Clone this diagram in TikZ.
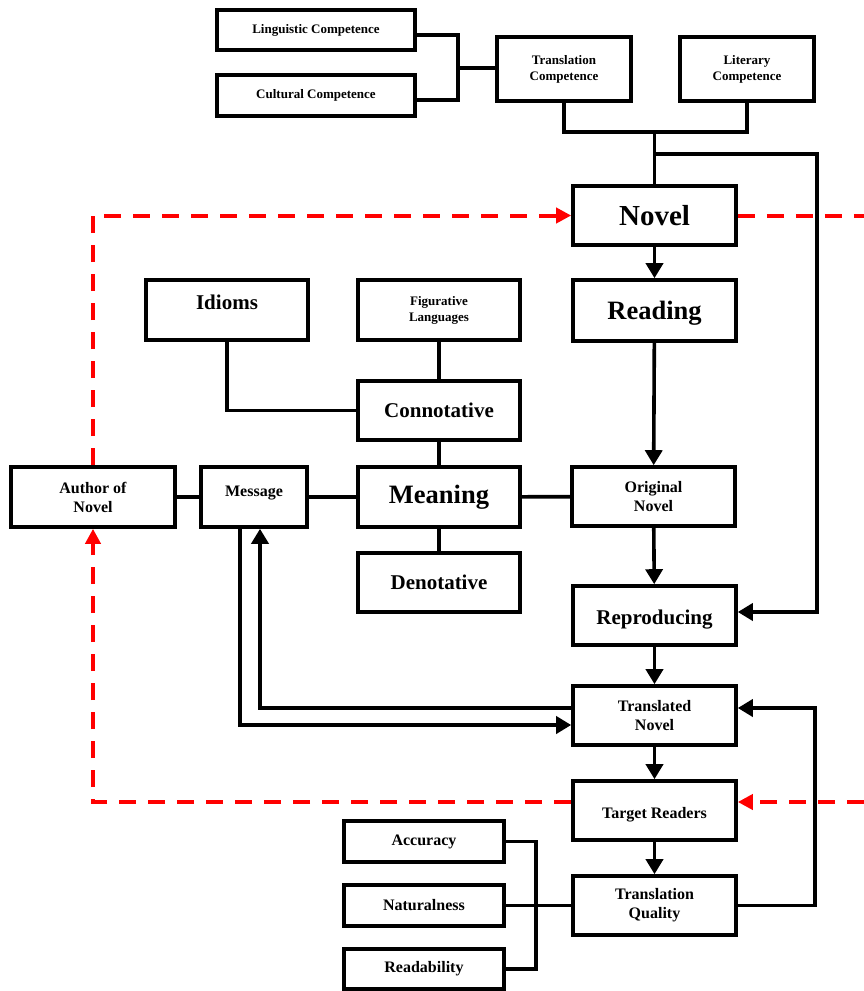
\documentclass[tikz,border=0pt]{standalone}
\usepackage{fontspec}
\setmainfont{Liberation Serif}
\usetikzlibrary{arrows.meta,calc}
\tikzset{
  box/.style={draw=black,line width=3.6pt,fill=white,align=center,inner sep=0pt,font=\bfseries},
  fs/.style={font=\bfseries\fontsize{13}{16}\selectfont},
  fn/.style={font=\bfseries\fontsize{16}{19}\selectfont},
  fm/.style={font=\bfseries\fontsize{21}{25}\selectfont},
  fl/.style={font=\bfseries\fontsize{26.5}{30}\selectfont},
  conn/.style={draw=black,line width=3.6pt},
  arr/.style={conn,-{Triangle[length=15pt,width=17pt]}},
  red dash/.style={draw=red,line width=4pt,dash pattern=on 17pt off 12pt},
  red arr/.style={red dash,-{Triangle[length=15pt,width=15pt]}}
}
\begin{document}
\begin{tikzpicture}[x=1pt,y=-1pt]
\useasboundingbox (0,0) rectangle (864,991);
% boxes
\node[box,fs,minimum width=198pt,minimum height=40pt] (ling) at (316,30) {Linguistic Competence};
\node[box,fs,minimum width=198pt,minimum height=41pt] (cult) at (316,95.5) {Cultural Competence};
\node[box,fs,minimum width=134pt,minimum height=64pt] (tc) at (564,69) {Translation\\Competence};
\node[box,fs,minimum width=134pt,minimum height=64pt] (lc) at (747,69) {Literary\\Competence};
\node[box,minimum width=163pt,minimum height=59pt,font=\bfseries\fontsize{29}{32}\selectfont] (novel) at (654.5,215.5) {Novel};
\node[box,fl,minimum width=163pt,minimum height=61pt,text height=17.5pt,text depth=0pt] (reading) at (654.5,310.5) {Reading};
\node[box,fm,minimum width=162pt,minimum height=60pt,text height=13.9pt,text depth=14pt] (idioms) at (227,310) {Idioms};
\node[box,fs,minimum width=162pt,minimum height=60pt] (fig) at (439,310) {Figurative\\Languages};
\node[box,fm,minimum width=162pt,minimum height=59pt] (conno) at (439,410.5) {Connotative};
\node[box,fl,minimum width=162pt,minimum height=60pt] (meaning) at (439,497) {Meaning};
\node[box,fm,minimum width=162pt,minimum height=59pt] (denot) at (439,582.5) {Denotative};
\node[box,fn,minimum width=164pt,minimum height=60pt] (author) at (93,497) {Author of\\Novel};
\node[box,fn,minimum width=106pt,minimum height=60pt,text height=10.6pt,text depth=11pt] (message) at (254,497) {Message};
\node[box,fn,minimum width=163pt,minimum height=59pt] (orig) at (653.5,496.5) {Original\\Novel};
\node[box,fm,minimum width=163pt,minimum height=59pt,text height=18.9pt,text depth=0pt] (repro) at (654.5,615.5) {Reproducing};
\node[box,fn,minimum width=163pt,minimum height=59pt] (trans) at (654.5,715.5) {Translated\\Novel};
\node[box,fn,minimum width=163pt,minimum height=59pt,text height=16pt,text depth=0pt] (target) at (654.5,810.5) {Target Readers};
\node[box,fn,minimum width=163pt,minimum height=59pt] (tq) at (654.5,905.5) {Translation\\Quality};
\node[box,fn,minimum width=160pt,minimum height=41pt] (acc) at (424,841.5) {Accuracy};
\node[box,fn,minimum width=160pt,minimum height=41pt] (nat) at (424,905.5) {Naturalness};
\node[box,fn,minimum width=160pt,minimum height=40pt] (read) at (424,969) {Readability};
% top competence connectors
\coordinate (j1) at (458,68);
\draw[conn] ([yshift=-5pt]ling.east) -| (j1) |- ([yshift=-4.5pt]cult.east);
\draw[conn] (j1) -- (tc.west |- j1);
\coordinate (cj) at (654.5,132);
\draw[conn] (tc.south) |- (cj) -| (lc.south);
\draw[conn] (cj) -- (novel.north);
\coordinate (rj) at (654.5,154);
\coordinate (rc) at (817,154);
\draw[arr] (rj) -- (rc) |- ([yshift=3.5pt]repro.east);
% main chain
\draw[arr] (novel) -- (reading);
\draw[arr] (reading) -- (orig);
\draw[arr] (orig) -- (repro);
\draw[arr] (repro) -- (trans);
\draw[arr] (trans) -- (target);
\draw[arr] (target) -- (tq);
% meaning cluster
\draw[conn] (idioms.south) |- (conno.west);
\draw[conn] (fig) -- (conno);
\draw[conn] (conno) -- (meaning);
\draw[conn] (meaning) -- (denot);
\draw[conn] (meaning) -- (orig);
\draw[conn] (message) -- (meaning);
\draw[conn] (author) -- (message);
% message loop
\coordinate (m1) at (240,725);
\coordinate (m2) at (260,708);
\draw[arr] ([xshift=-14pt]message.south) -- (m1) -- (trans.west |- m1);
\draw[arr] ([yshift=7.5pt]trans.west) -- (m2) -- ([xshift=6pt]message.south);
% quality
\coordinate (qv) at (536,905.5);
\draw[conn] (acc.east) -| (qv) |- (read.east);
\draw[conn] (nat) -- (tq);
\coordinate (qr) at (815,905.5);
\draw[arr] (tq.east) -- (qr) |- ([yshift=7.5pt]trans.east);
% red dashed feedback
\coordinate (e1) at (864,215.5);
\coordinate (e2) at (864,802);
\coordinate (l2) at (93,802);
\draw[red dash] (novel.east) -- (e1);
\draw[red arr] (author.north) |- (novel.west);
\draw[red arr] (e2) -- ([yshift=8.5pt]target.east);
\draw[red arr] ([yshift=8.5pt]target.west) -- (l2) -- (author.south);
\end{tikzpicture}
\end{document}
